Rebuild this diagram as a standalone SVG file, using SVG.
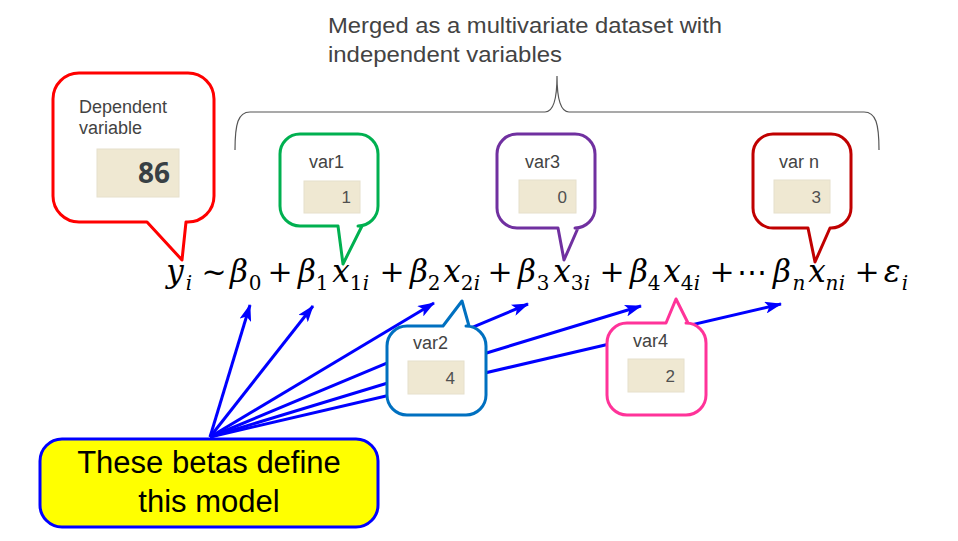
<svg xmlns="http://www.w3.org/2000/svg" width="958" height="541" viewBox="0 0 958 541">
<style>
.lbl{font-family:"Liberation Sans",Arial,sans-serif;font-size:18px;fill:#434343}
.val{font-family:"Liberation Sans",Arial,sans-serif;font-size:17px;fill:#505050;text-anchor:end}
.cell{fill:#efe8d2;stroke:#e6e0cc;stroke-width:1}
.co{fill:#fff;stroke-width:3;stroke-linejoin:round}
#equation text{text-anchor:middle;fill:#000;font-family:"DejaVu Serif","Liberation Serif",serif}
.m{font-style:italic;font-size:31px}
.s{font-style:italic;font-size:20px}
.n{font-size:20px}
.op{font-size:30px}
.arr{stroke:#0000ff;stroke-width:3;fill:none;marker-end:url(#ah)}
</style>
<defs>
<marker id="ah" markerUnits="userSpaceOnUse" markerWidth="17" markerHeight="12" viewBox="0 0 17 12" refX="16" refY="6" orient="auto">
<path d="M0,0 L17,6 L0,12 L4,6 Z" fill="#0000ff"/>
</marker>
</defs>
<rect width="958" height="541" fill="#fff"/>

<g id="brace">
<path d="M235,150 C235,124 238,112 250,112 L545,112 C553,112 557,100 557,76 C557,100 561,112 569,112 L864,112 C876,112 879,124 879,150" fill="none" stroke="#555" stroke-width="1.2"/>
<text class="lbl" style="font-size:22px" x="328" y="33" textLength="394" lengthAdjust="spacingAndGlyphs">Merged as a multivariate dataset with</text>
<text class="lbl" style="font-size:22px" x="328" y="62" textLength="234" lengthAdjust="spacingAndGlyphs">independent variables</text>
</g>

<g id="connectors">
<line class="arr" x1="210" y1="437" x2="250" y2="305"/>
<line class="arr" x1="210" y1="437" x2="313" y2="306"/>
<line class="arr" x1="210" y1="437" x2="434" y2="303"/>
<line class="arr" x1="210" y1="437" x2="528" y2="304"/>
<line class="arr" x1="210" y1="437" x2="641" y2="306"/>
<line class="arr" x1="210" y1="437" x2="781" y2="304"/>
</g>

<g id="dependent">
<path class="co" stroke="#ff0000" d="M79,73 H188 A26,26 0 0 1 214,99 V196 A26,26 0 0 1 188,222 H186 L182,260 L147,222 H79 A26,26 0 0 1 53,196 V99 A26,26 0 0 1 79,73 Z"/>
<text class="lbl" x="79" y="113">Dependent</text>
<text class="lbl" x="79" y="134">variable</text>
<rect class="cell" x="97" y="149" width="82" height="48"/>
<text x="170" y="183" text-anchor="end" style="font-family:'Open Sans','DejaVu Sans',sans-serif;font-weight:bold;font-size:28px;fill:#384044">86</text>
</g>

<g id="var1">
<path class="co" stroke="#00b050" d="M300,134 H358 A20,20 0 0 1 378,154 V206 A20,20 0 0 1 358,226 H362 L343,264 L338,226 H300 A20,20 0 0 1 280,206 V154 A20,20 0 0 1 300,134 Z"/>
<text class="lbl" x="309" y="168">var1</text>
<rect class="cell" x="304" y="181" width="56" height="32"/>
<text class="val" x="351" y="203">1</text>
</g>

<g id="var3">
<path class="co" stroke="#7030a0" d="M517,134 H575 A20,20 0 0 1 595,154 V208 A20,20 0 0 1 575,228 H578 L564,260 L558,228 H517 A20,20 0 0 1 497,208 V154 A20,20 0 0 1 517,134 Z"/>
<text class="lbl" x="525" y="168">var3</text>
<rect class="cell" x="519" y="180" width="57" height="33"/>
<text class="val" x="567" y="203">0</text>
</g>

<g id="varn">
<path class="co" stroke="#c00000" d="M773,134 H831 A20,20 0 0 1 851,154 V208 A20,20 0 0 1 831,228 H830 L815,262 L808,228 H773 A20,20 0 0 1 753,208 V154 A20,20 0 0 1 773,134 Z"/>
<text class="lbl" x="779" y="168">var n</text>
<rect class="cell" x="774" y="180" width="56" height="33"/>
<text class="val" x="821" y="203">3</text>
</g>

<g id="var2">
<path class="co" stroke="#0070c0" d="M407,326 H443 L462,301 L469,326 H466 A20,20 0 0 1 486,346 V395 A20,20 0 0 1 466,415 H407 A20,20 0 0 1 387,395 V346 A20,20 0 0 1 407,326 Z"/>
<text class="lbl" x="413" y="349">var2</text>
<rect class="cell" x="408" y="361" width="56" height="33"/>
<text class="val" x="455" y="384">4</text>
</g>

<g id="var4">
<path class="co" stroke="#ff3399" d="M627,323 H666 L676,299 L688,323 H686 A20,20 0 0 1 706,343 V395 A20,20 0 0 1 686,415 H627 A20,20 0 0 1 607,395 V343 A20,20 0 0 1 627,323 Z"/>
<text class="lbl" x="633" y="347">var4</text>
<rect class="cell" x="628" y="359" width="56" height="33"/>
<text class="val" x="675" y="382">2</text>
</g>

<g id="equation">
<text class="m" x="175" y="282">y</text><text class="s" x="189" y="290">i</text>
<text class="op" x="214" y="282">~</text>
<text class="m" x="239" y="282">β</text><text class="n" x="255" y="290">0</text>
<text class="op" x="280" y="282">+</text>
<text class="m" x="307" y="282">β</text><text class="n" x="322" y="290">1</text>
<text class="m" x="341" y="282">x</text><text class="n" x="356" y="290">1</text><text class="s" x="366" y="290">i</text>
<text class="op" x="392" y="282">+</text>
<text class="m" x="419" y="282">β</text><text class="n" x="434" y="290">2</text>
<text class="m" x="452" y="282">x</text><text class="n" x="467" y="290">2</text><text class="s" x="477" y="290">i</text>
<text class="op" x="500" y="282">+</text>
<text class="m" x="527" y="282">β</text><text class="n" x="543" y="290">3</text>
<text class="m" x="562" y="282">x</text><text class="n" x="577" y="290">3</text><text class="s" x="587" y="290">i</text>
<text class="op" x="612" y="282">+</text>
<text class="m" x="639" y="282">β</text><text class="n" x="654" y="290">4</text>
<text class="m" x="672" y="282">x</text><text class="n" x="687" y="290">4</text><text class="s" x="697" y="290">i</text>
<text class="op" x="722" y="282">+</text>
<text class="op" x="752" y="282">⋯</text>
<text class="m" x="782" y="282">β</text><text class="s" x="799" y="290">n</text>
<text class="m" x="817" y="282">x</text><text class="s" x="832" y="290">n</text><text class="s" x="842" y="290">i</text>
<text class="op" x="867" y="282">+</text>
<text class="m" x="892" y="282">ε</text><text class="s" x="905" y="290">i</text>
</g>

<g id="betas">
<rect x="40" y="439" width="338" height="88" rx="22" ry="22" fill="#ffff00" stroke="#0000ff" stroke-width="3"/>
<text x="209" y="473" text-anchor="middle" style="font-family:'Liberation Sans',Arial,sans-serif;font-size:31px;fill:#000">These betas define</text>
<text x="209" y="512" text-anchor="middle" style="font-family:'Liberation Sans',Arial,sans-serif;font-size:31px;fill:#000">this model</text>
</g>
</svg>
